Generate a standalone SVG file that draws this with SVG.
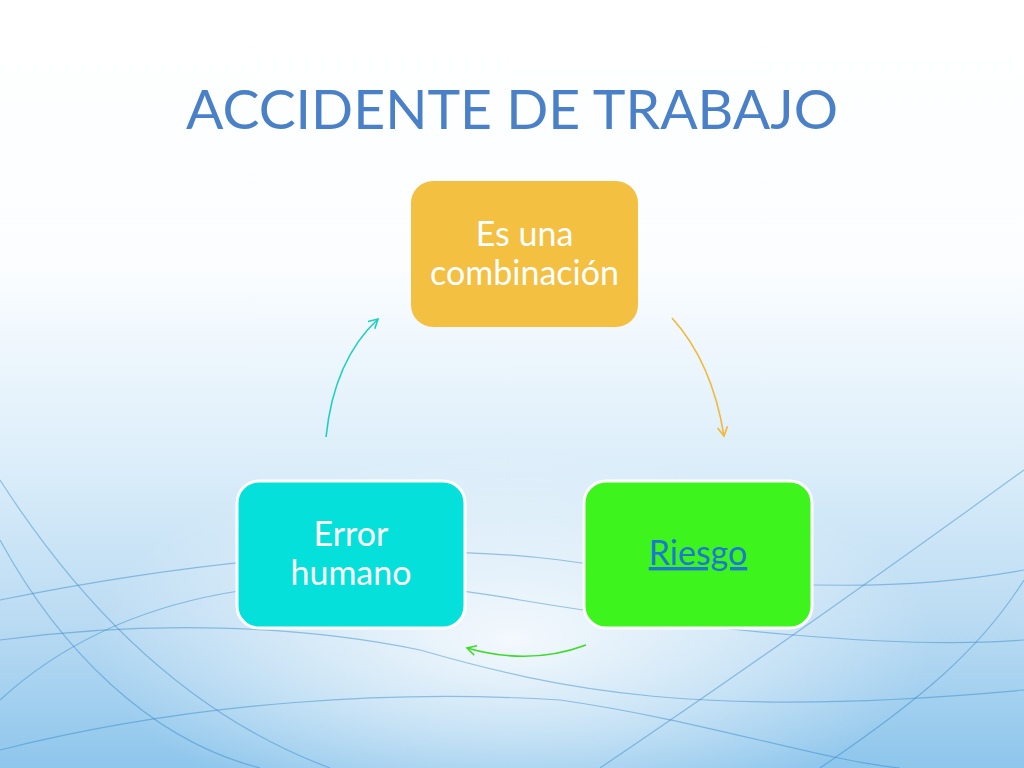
<svg xmlns="http://www.w3.org/2000/svg" width="1024" height="768" viewBox="0 0 1024 768">
<defs>
<linearGradient id="bg" x1="0" y1="0" x2="0" y2="1">
<stop offset="0" stop-color="#ffffff"/>
<stop offset="0.35" stop-color="#fbfdff"/>
<stop offset="0.6" stop-color="#dceefa"/>
<stop offset="0.8" stop-color="#bcdcf3"/>
<stop offset="1" stop-color="#8ec6ec"/>
</linearGradient>
<radialGradient id="glow" gradientUnits="userSpaceOnUse" cx="512" cy="640" r="420" gradientTransform="translate(512 640) scale(1 0.45) translate(-512 -640)">
<stop offset="0" stop-color="#ffffff" stop-opacity="0.85"/>
<stop offset="0.5" stop-color="#ffffff" stop-opacity="0.45"/>
<stop offset="1" stop-color="#ffffff" stop-opacity="0"/>
</radialGradient>
<marker id="ay" viewBox="0 0 12 12" refX="10" refY="6" markerWidth="12" markerHeight="12" markerUnits="userSpaceOnUse" orient="auto">
<path d="M1,1 L10,6 L1,11" fill="none" stroke="#F0B93A" stroke-width="1.6"/>
</marker>
<marker id="ag" viewBox="0 0 12 12" refX="10" refY="6" markerWidth="12" markerHeight="12" markerUnits="userSpaceOnUse" orient="auto">
<path d="M1,1 L10,6 L1,11" fill="none" stroke="#3DDB2A" stroke-width="1.6"/>
</marker>
<marker id="at" viewBox="0 0 12 12" refX="10" refY="6" markerWidth="12" markerHeight="12" markerUnits="userSpaceOnUse" orient="auto">
<path d="M1,1 L10,6 L1,11" fill="none" stroke="#1ECFC0" stroke-width="1.6"/>
</marker>
<style>
.node{stroke:#ffffff;stroke-width:3}
.lbl{font-family:Lato,"Open Sans","Liberation Sans",sans-serif;font-size:34px;fill:#ffffff;text-anchor:middle}
.wave{fill:none;stroke:#2f86c8;stroke-width:1.2;opacity:0.45}
.conn{fill:none;stroke-width:1.6}
</style>
</defs>
<rect width="1024" height="768" fill="url(#bg)"/>
<rect width="1024" height="768" fill="url(#glow)"/>
<g id="background-waves">
<path class="wave" d="M0,640 C150,620 300,625 420,650 C560,690 700,720 1024,690"/>
<path class="wave" d="M0,700 C120,590 300,560 520,600 C700,630 900,650 1024,640"/>
<path class="wave" d="M0,600 C200,560 400,540 560,560 C700,580 860,600 1024,570"/>
<path class="wave" d="M0,540 C60,650 150,740 260,768"/>
<path class="wave" d="M0,480 C90,620 200,720 330,768"/>
<path class="wave" d="M600,768 C760,660 900,560 1024,470"/>
<path class="wave" d="M820,768 C920,700 980,650 1024,580"/>
<path class="wave" d="M0,750 C200,700 400,690 560,700"/>
<path class="wave" d="M560,700 C700,720 820,760 900,768"/>
</g>
<text x="512" y="129" font-family="Lato,'Open Sans','Liberation Sans',sans-serif" font-size="54" fill="#4A80C8" text-anchor="middle" textLength="652" lengthAdjust="spacingAndGlyphs">ACCIDENTE DE TRABAJO</text>
<g id="connectors">
<path class="conn" stroke="#F0B93A" d="M672,318 Q712,362 724,436" marker-end="url(#ay)"/>
<path class="conn" stroke="#3DDB2A" d="M586,645 Q530,666 467,648" marker-end="url(#ag)"/>
<path class="conn" stroke="#1ECFC0" d="M326,437 Q334,360 378,319" marker-end="url(#at)"/>
</g>
<g id="node-combinacion">
<rect x="411" y="181" width="227" height="146" rx="22" fill="#F3C042"/>
<text class="lbl" x="524.5" y="246">Es una</text>
<text class="lbl" x="524.5" y="285">combinación</text>
</g>
<g id="node-riesgo">
<rect class="node" x="584" y="481" width="228" height="147" rx="22" fill="#3DF51C"/>
<text x="698" y="565" font-family="Lato,'Open Sans','Liberation Sans',sans-serif" font-size="34" fill="#1E78D2" text-anchor="middle" text-decoration="underline">Riesgo</text>
</g>
<g id="node-error">
<rect class="node" x="237" y="481" width="228" height="147" rx="22" fill="#05E0DA"/>
<text class="lbl" x="351" y="546">Error</text>
<text class="lbl" x="351" y="585">humano</text>
</g>
</svg>
